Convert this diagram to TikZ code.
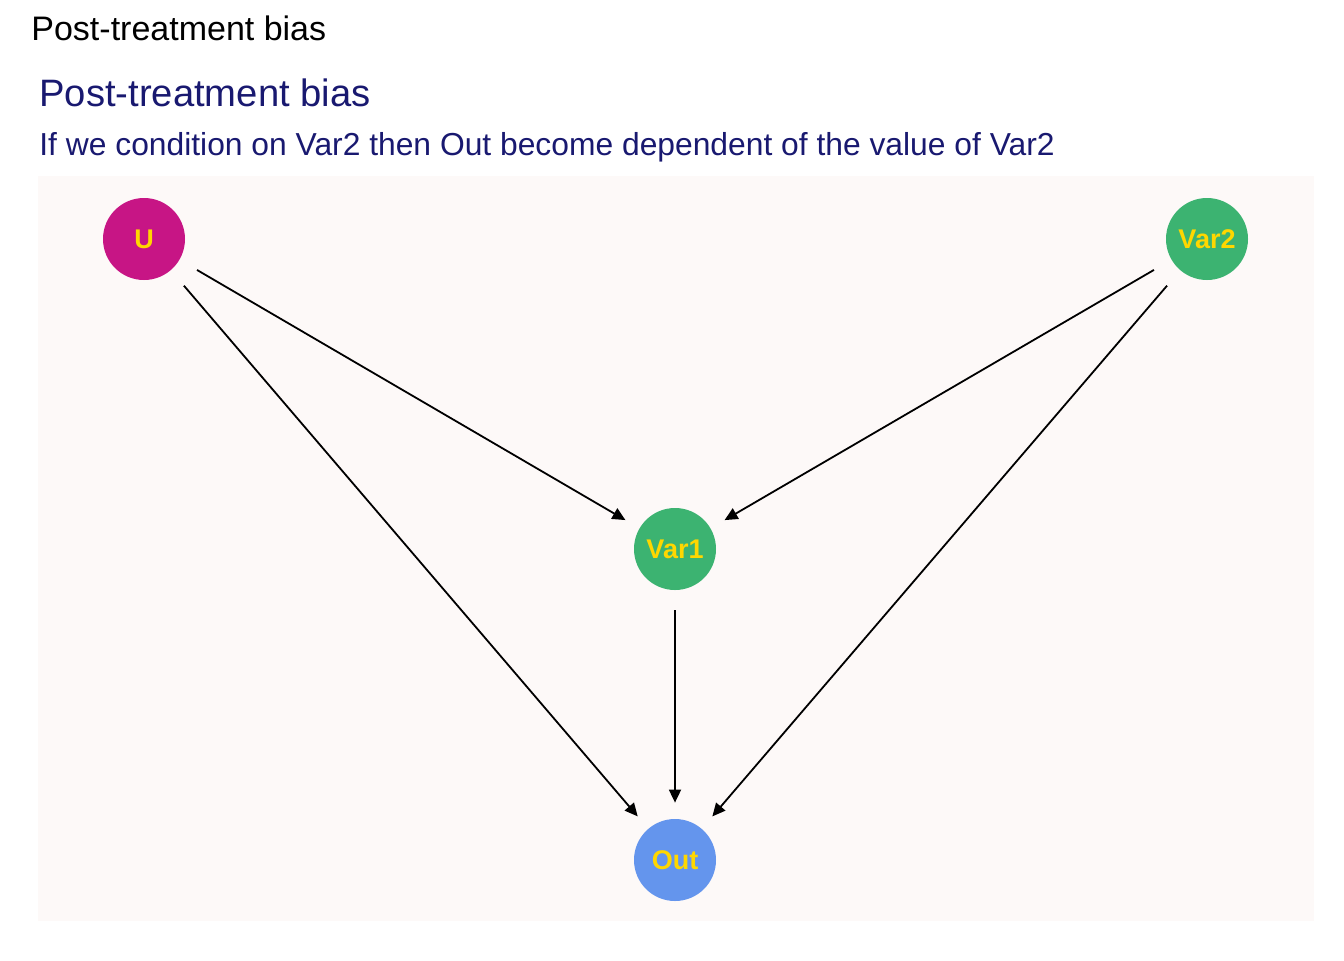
\documentclass[tikz,border=0pt]{standalone}
\usepackage{fontspec}
\setmainfont{Liberation Sans}
\usepackage{xcolor}
\usetikzlibrary{arrows.meta,positioning}
\definecolor{PanelBg}{HTML}{FDF9F8}
\definecolor{NodeU}{HTML}{C71585}
\definecolor{NodeGreen}{HTML}{3CB371}
\definecolor{NodeOut}{HTML}{6495ED}
\definecolor{LabelGold}{HTML}{FFD700}
\definecolor{TitleNavy}{HTML}{191970}

\begin{document}
\begin{tikzpicture}[
  x=0.5pt, y=-0.5pt,
  var/.style={circle, minimum size=41pt, inner sep=0pt, text=LabelGold, font=\fontsize{13.5}{16}\selectfont\bfseries},
  arrow/.style={-{Triangle[length=6.5pt, width=6pt]}, line width=0.9pt, black, shorten <=10pt, shorten >=8pt}
]
  \useasboundingbox (0,0) rectangle (1344,960);
  \fill[PanelBg] (38,176) rectangle (1314,921);

  \node[anchor=base west, inner sep=0pt, font=\fontsize{17}{20}\selectfont] (heading) at (31,40) {Post-treatment bias};
  \node[anchor=base west, inner sep=0pt, text=TitleNavy, font=\fontsize{19.1}{23}\selectfont] (title) at (39,106) {Post-treatment bias};
  \node[anchor=base west, inner sep=0pt, text=TitleNavy, font=\fontsize{15.9}{19}\selectfont] (subtitle) at (39,155) {If we condition on Var2 then Out become dependent of the value of Var2};

  \node[var, fill=NodeU] (u) at (144,239) {U};
  \node[var, fill=NodeGreen] (var2) at (1207,239) {Var2};
  \node[var, fill=NodeGreen] (var1) at (675,549) {Var1};
  \node[var, fill=NodeOut] (out) at (675,860) {Out};

  \draw[arrow] (u) -- (var1);
  \draw[arrow] (u) -- (out);
  \draw[arrow] (var2) -- (var1);
  \draw[arrow] (var2) -- (out);
  \draw[arrow] (var1) -- (out);
\end{tikzpicture}
\end{document}
